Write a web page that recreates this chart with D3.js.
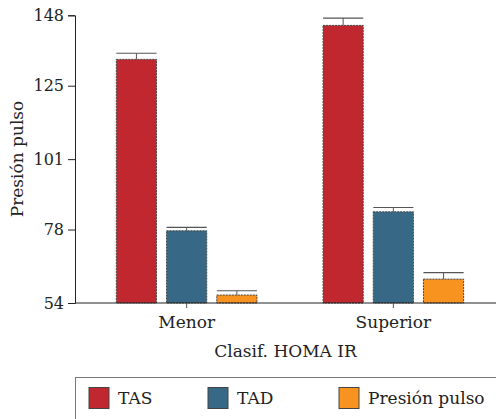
<!DOCTYPE html>
<html><head><meta charset="utf-8">
<script src="https://cdn.jsdelivr.net/npm/d3@7"></script>
<style>body{margin:0;background:#fff}svg{display:block}text{font-family:"DejaVu Serif",serif;fill:#222}</style>
</head><body><svg id="c" width="496" height="419"></svg>
<script>
const categories = ["Menor", "Superior"];
const seriesNames = ["TAS", "TAD", "Presión pulso"];
const TAS = [133.6, 144.7];
const TAD = [77.6, 83.8];
const PP = [56.6, 61.8];
const TAS_err = [2.0, 2.4];
const TAD_err = [1.1, 1.4];
const PP_err = [1.4, 2.1];
const yTicks = [54, 78, 101, 125, 148];
const colors = ["#C1272F", "#376986", "#F7931E"];

(function(){
const svg = d3.select("#c");
const mLeft = 75, mRight = 496, mTop = 15.3, mBottom = 303;
const y = d3.scaleLinear().domain([54, 148]).range([mBottom, mTop]);
const x0 = d3.scaleBand().domain(categories).range([83.3, 496.7]).paddingInner(0).paddingOuter(0);
const gw = 140.6;
const xs = d3.scaleBand().domain(seriesNames).range([-gw/2, gw/2]).paddingInner(0.2);

const data = [TAS, TAD, PP];
const errs = [TAS_err, TAD_err, PP_err];

categories.forEach((cat, ci) => {
  const cx = x0(cat) + x0.bandwidth()/2;
  seriesNames.forEach((s, si) => {
    const v = data[si][ci], e = errs[si][ci];
    const bx = cx + xs(s);
    const bw = xs.bandwidth();
    svg.append("line").attr("x1", bx + bw/2).attr("x2", bx + bw/2)
      .attr("y1", y(v)).attr("y2", y(v + e)).attr("stroke", "#555").attr("stroke-width", 1);
    svg.append("line").attr("x1", bx).attr("x2", bx + bw)
      .attr("y1", y(v + e)).attr("y2", y(v + e)).attr("stroke", "#555").attr("stroke-width", 1.2);
    svg.append("rect").attr("x", bx).attr("y", y(v)).attr("width", bw).attr("height", y(54) - y(v))
      .attr("fill", colors[si]).attr("stroke", "#444").attr("stroke-width", 1).attr("stroke-dasharray", "2,1");
  });
});

const yAxis = d3.axisLeft(y).tickValues(yTicks).tickSize(7).tickPadding(4).tickFormat(d3.format("d"));
const gy = svg.append("g").attr("transform", `translate(${mLeft},0)`).call(yAxis);
gy.select(".domain").attr("stroke", "#222");
gy.selectAll(".tick line").attr("stroke", "#222");
gy.selectAll("text").style("font-size", "16px").attr("fill", "#222");

const xAxis = d3.axisBottom(x0).tickSize(5).tickPadding(8).tickSizeOuter(0);
const gx = svg.append("g").attr("transform", `translate(0,${mBottom})`).call(xAxis);
gx.select(".domain").remove();
gx.selectAll(".tick line").attr("stroke", "#555");
gx.selectAll("text").style("font-size", "17px").attr("fill", "#222");
svg.append("line").attr("x1", mLeft).attr("x2", mRight).attr("y1", mBottom).attr("y2", mBottom).attr("stroke", "#222");

svg.append("text").attr("x", (mLeft + mRight)/2).attr("y", 357).attr("text-anchor", "middle")
  .style("font-size", "17px").text("Clasif. HOMA IR");
svg.append("text").attr("transform", `translate(23,159) rotate(-90)`).attr("text-anchor", "middle")
  .style("font-size", "17px").text("Presión pulso");

svg.append("rect").attr("x", 75.5).attr("y", 377.5).attr("width", 430).attr("height", 60)
  .attr("fill", "none").attr("stroke", "#777").attr("stroke-width", 1);
const legX = [89, 208, 339];
seriesNames.forEach((s, i) => {
  svg.append("rect").attr("x", legX[i]).attr("y", 387.5).attr("width", 20).attr("height", 21)
    .attr("fill", colors[i]).attr("stroke", "#444").attr("stroke-width", 1);
  svg.append("text").attr("x", legX[i] + 29).attr("y", 404).style("font-size", "17px").text(s);
});
})();
</script></body></html>
